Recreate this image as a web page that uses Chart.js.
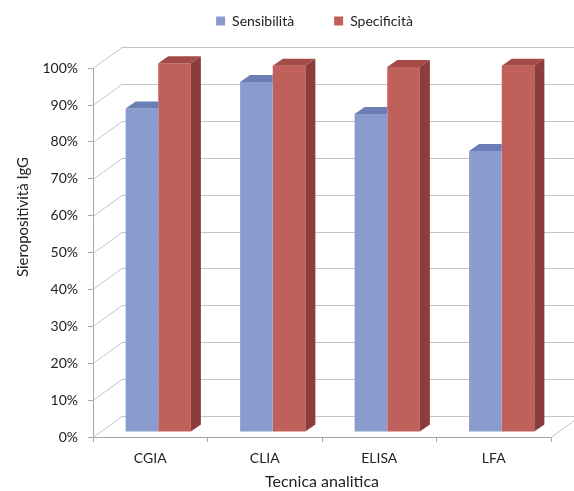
<!DOCTYPE html>
<html>
<head>
<meta charset="utf-8">
<script src="https://cdn.jsdelivr.net/npm/chart.js@4/dist/chart.umd.min.js"></script>
<style>
  html, body { margin: 0; padding: 0; background: #fff; }
  #wrap { width: 574px; height: 491px; }
</style>
</head>
<body>
<div id="wrap"><canvas id="chart" width="574" height="491"></canvas></div>
<script>
// Tecniche analitiche e valori (%)
const categories = ['CGIA', 'CLIA', 'ELISA', 'LFA'];
const sensibilita = [87.7, 94.9, 86.2, 76.2];
const specificita = [100, 99.3, 99.0, 99.3];
const yTicks = [0, 10, 20, 30, 40, 50, 60, 70, 80, 90, 100];

// 3D look: wall depth and bar depth (pixels)
const WALL = { dx: 29, dy: -21 };
const PLANE = { dx: 8, dy: -5 };   // bars sit a bit behind the front plane
const DEPTH = { dx: 10, dy: -7 };
const LEGEND_SHIFT = 39;

const gridColor = '#C4C4C4';
const axisColor = '#A6A6A6';
const textColor = '#222';

Chart.defaults.font.family = 'Lato, "Open Sans", sans-serif';
Chart.defaults.color = textColor;

// back wall, side wall and floor lines + 3D faces of the bars
const wallsPlugin = {
    id: 'walls',
    afterLayout(chart) {
        // legend is centred a bit right of the page centre in the original
        chart.legend.left += LEGEND_SHIFT;
        chart.legend.right += LEGEND_SHIFT;
    },
    beforeDatasetsDraw(chart) {
        const { ctx, chartArea: a, scales: { y } } = chart;
        ctx.save();
        ctx.strokeStyle = gridColor;
        ctx.lineWidth = 1;
        yTicks.forEach(v => {
            const py = Math.round(y.getPixelForValue(v)) + 0.5;
            ctx.beginPath();
            ctx.moveTo(a.left, py);
            ctx.lineTo(a.left + WALL.dx, py + WALL.dy);
            ctx.lineTo(a.right + WALL.dx, py + WALL.dy);
            ctx.stroke();
        });
        const pb = Math.round(a.bottom) + 0.5;
        ctx.beginPath();
        ctx.moveTo(a.right, pb);
        ctx.lineTo(a.right + WALL.dx, pb + WALL.dy);
        ctx.stroke();
        ctx.restore();

        // move bars into their own depth plane
        ctx.save();
        ctx.translate(PLANE.dx, PLANE.dy);
    },
    afterDatasetDraw(chart, args) {
        const { ctx } = chart;
        const ds = chart.data.datasets[args.index];
        args.meta.data.forEach(bar => {
            const l = bar.x - bar.width / 2;
            const r = bar.x + bar.width / 2;
            const t = bar.y;
            const b = bar.base;
            // top face (front series stops where the next bar hides it)
            ctx.fillStyle = ds.topColor;
            ctx.beginPath();
            ctx.moveTo(l, t);
            ctx.lineTo(r, t);
            if (ds.sideColor) {
                ctx.lineTo(r + DEPTH.dx, t + DEPTH.dy);
            } else {
                ctx.lineTo(r, t + DEPTH.dy);
            }
            ctx.lineTo(l + DEPTH.dx, t + DEPTH.dy);
            ctx.closePath();
            ctx.fill();
            if (!ds.sideColor) return;
            // side face
            ctx.fillStyle = ds.sideColor;
            ctx.beginPath();
            ctx.moveTo(r, t);
            ctx.lineTo(r + DEPTH.dx, t + DEPTH.dy);
            ctx.lineTo(r + DEPTH.dx, b + DEPTH.dy);
            ctx.lineTo(r, b);
            ctx.closePath();
            ctx.fill();
        });
    },
    afterDatasetsDraw(chart) {
        chart.ctx.restore();
    },
    afterDraw(chart) {
        // y axis title, placed like in the original
        const { ctx } = chart;
        ctx.save();
        ctx.translate(23, 217);
        ctx.rotate(-Math.PI / 2);
        ctx.font = '15px Lato';
        ctx.fillStyle = textColor;
        ctx.textAlign = 'center';
        ctx.textBaseline = 'middle';
        ctx.fillText('Sieropositività IgG', 0, 0);
        ctx.restore();
    }
};

new Chart(document.getElementById('chart'), {
    type: 'bar',
    data: {
        labels: categories,
        datasets: [
            {
                label: 'Sensibilità',
                data: sensibilita,
                backgroundColor: '#8A9CCE',
                topColor: '#6A7DB5',
                sideColor: null,
                borderWidth: 0,
                clip: false
            },
            {
                label: 'Specificità',
                data: specificita,
                backgroundColor: '#C0605B',
                topColor: '#A44B48',
                sideColor: '#8B3D3B',
                borderWidth: 0,
                clip: false
            }
        ]
    },
    options: {
        responsive: false,
        animation: false,
        devicePixelRatio: 1,
        layout: { padding: { left: 0, right: 23, top: -26, bottom: 0 } },
        datasets: {
            bar: { categoryPercentage: 0.57, barPercentage: 1 }
        },
        plugins: {
            legend: {
                position: 'top',
                labels: {
                    boxWidth: 9,
                    boxHeight: 9,
                    padding: 40,
                    font: { size: 14 },
                    color: textColor
                }
            },
            // empty spacer between legend and plot
            title: {
                display: true,
                text: '',
                weight: 500,
                font: { size: 1 },
                padding: { top: 29, bottom: 0 }
            },
            tooltip: { enabled: false }
        },
        scales: {
            x: {
                grid: {
                    display: true,
                    drawOnChartArea: false,
                    drawTicks: true,
                    tickLength: 5,
                    color: axisColor,
                    offset: true
                },
                border: { display: true, color: axisColor },
                ticks: { font: { size: 14 }, color: textColor, padding: 8 },
                title: {
                    display: true,
                    text: 'Tecnica analitica',
                    font: { size: 16 },
                    color: textColor,
                    padding: { top: 0, bottom: 0 }
                },
                afterFit: s => { s.height = 54; }
            },
            y: {
                min: 0,
                max: 100,
                grid: {
                    display: true,
                    drawOnChartArea: false,
                    drawTicks: true,
                    tickLength: 5,
                    color: axisColor
                },
                border: { display: true, color: axisColor },
                ticks: {
                    stepSize: 10,
                    font: { size: 14 },
                    color: textColor,
                    padding: 10,
                    callback: v => v + '%'
                },
                afterFit: s => { s.width = 93; }
            }
        }
    },
    plugins: [wallsPlugin]
});
</script>
</body>
</html>
